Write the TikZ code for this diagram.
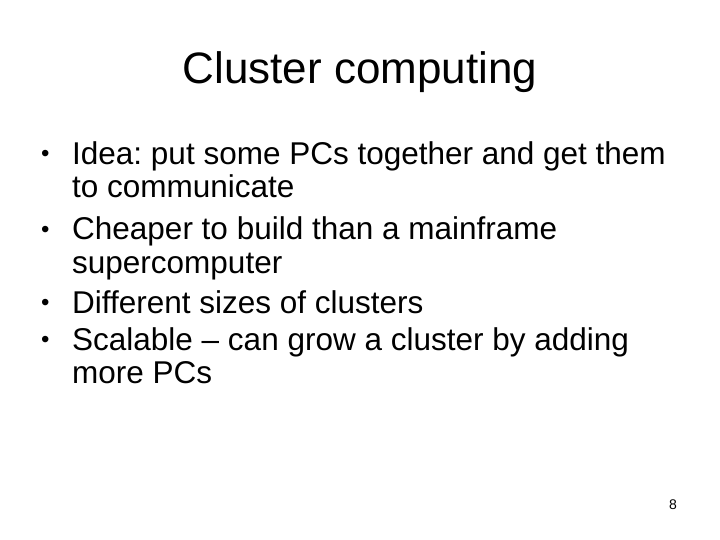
\documentclass[tikz,border=0pt]{standalone}
\usepackage{fontspec}
\setmainfont{Liberation Sans}
\begin{document}
\frenchspacing
\begin{tikzpicture}[x=1pt,y=-1pt,
  body/.style={anchor=base west,inner sep=0pt,font=\fontsize{31.5}{31.5}\selectfont},
  bul/.style={anchor=base west,inner sep=0pt,font=\fontsize{24}{24}\selectfont}]
\useasboundingbox[fill=white] (0,0) rectangle (720,540);
\node[anchor=base,inner sep=0pt,font=\fontsize{44}{44}\selectfont] (title) at (360,84) {Cluster computing};
\node[bul] (b1) at (41,162) {•};
\node[body] (t1) at (72,165) {Idea: put some PCs together and get them};
\node[body] (t1b) at (72,198) {to communicate};
\node[bul] (b2) at (41,237) {•};
\node[body] (t2) at (72,240) {Cheaper to build than a mainframe};
\node[body] (t2b) at (72,273) {supercomputer};
\node[bul] (b3) at (41,310) {•};
\node[body] (t3) at (72,313) {Different sizes of clusters};
\node[bul] (b4) at (41,347) {•};
\node[body] (t4) at (72,350) {Scalable – can grow a cluster by adding};
\node[body] (t4b) at (72,383) {more PCs};
\node[anchor=base east,inner sep=0pt,font=\fontsize{14}{14}\selectfont] (pg) at (677,509) {8};
\end{tikzpicture}
\end{document}
